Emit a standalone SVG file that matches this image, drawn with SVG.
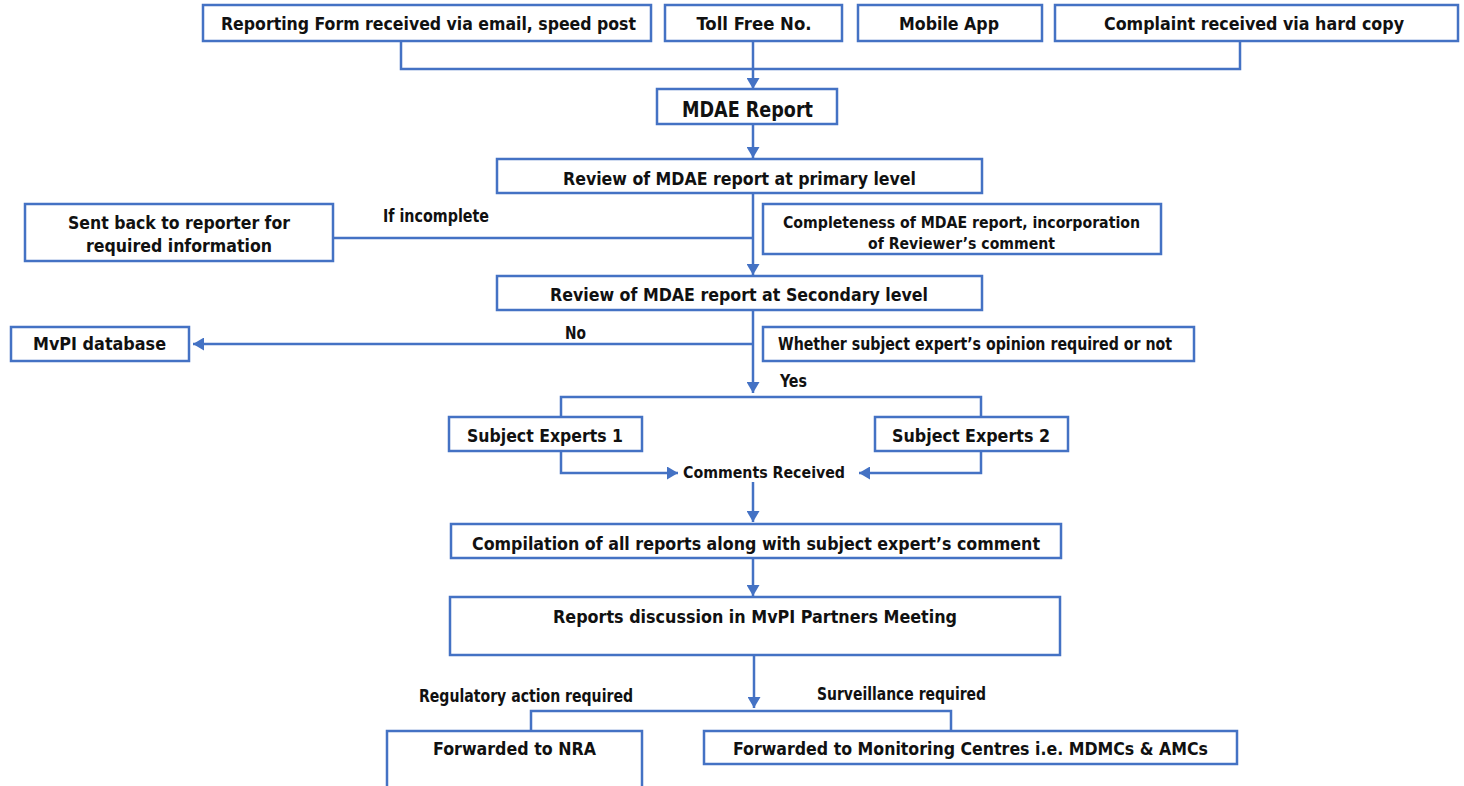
<svg xmlns="http://www.w3.org/2000/svg" width="1464" height="786" viewBox="0 0 1464 786">
<defs>
<marker id="ah" markerUnits="userSpaceOnUse" markerWidth="11" markerHeight="13" refX="11" refY="6.5" orient="auto">
<path d="M0,0 L11,6.5 L0,13 z" fill="#4472C4"/>
</marker>
<style>
.box{fill:#fff;stroke:#4472C4;stroke-width:2.5}
.ln{fill:none;stroke:#4472C4;stroke-width:2.5}
.ar{fill:none;stroke:#4472C4;stroke-width:2.5;marker-end:url(#ah)}
text{font-family:"DejaVu Sans Condensed","DejaVu Sans",sans-serif;font-weight:bold;font-size:17px;fill:#111;text-anchor:middle}
.l{text-anchor:start}
</style>
</defs>
<rect width="1464" height="786" fill="#fff"/>
<g id="connectors">
<path class="ln" d="M401,41 V69 H1240 V41"/>
<path class="ar" d="M753,41 V89"/>
<path class="ar" d="M753,124 V158"/>
<path class="ar" d="M753,193 V275"/>
<path class="ln" d="M753,238 H333"/>
<path class="ar" d="M753,310 V393"/>
<path class="ar" d="M753,344 H193"/>
<path class="ln" d="M561,417 V397 H981 V417"/>
<path class="ar" d="M561,451 V473 H678"/>
<path class="ar" d="M981,451 V473 H859"/>
<path class="ar" d="M753,482 V522"/>
<path class="ar" d="M753,558 V596"/>
<path class="ar" d="M754,655 V708"/>
<path class="ln" d="M531,731 V711 H951 V731"/>
</g>
<g id="n-form"><rect class="box" x="203" y="5" width="448" height="36"/><text x="428.5" y="30" textLength="415" lengthAdjust="spacingAndGlyphs">Reporting Form received via email, speed post</text></g>
<g id="n-toll"><rect class="box" x="665" y="5" width="177" height="36"/><text x="754" y="30" textLength="115" lengthAdjust="spacingAndGlyphs">Toll Free No.</text></g>
<g id="n-app"><rect class="box" x="858" y="5" width="184" height="36"/><text x="949" y="30" textLength="100" lengthAdjust="spacingAndGlyphs">Mobile App</text></g>
<g id="n-hard"><rect class="box" x="1055" y="5" width="403" height="36"/><text x="1254" y="30" textLength="300" lengthAdjust="spacingAndGlyphs">Complaint received via hard copy</text></g>
<g id="n-mdae"><rect class="box" x="657" y="89" width="180" height="35"/><text x="747.5" y="117" style="font-size:21px" textLength="131" lengthAdjust="spacingAndGlyphs">MDAE Report</text></g>
<g id="n-primary"><rect class="box" x="497" y="159" width="485" height="34"/><text x="739.5" y="185" textLength="353" lengthAdjust="spacingAndGlyphs">Review of MDAE report at primary level</text></g>
<g id="n-sentback"><rect class="box" x="25" y="204" width="308" height="57"/><text x="179" y="229" textLength="222" lengthAdjust="spacingAndGlyphs">Sent back to reporter for</text><text x="179" y="252" textLength="186" lengthAdjust="spacingAndGlyphs">required information</text></g>
<g id="lbl-incomplete"><text class="l" x="383" y="222" textLength="106" lengthAdjust="spacingAndGlyphs">If incomplete</text></g>
<g id="n-complete"><rect class="box" x="763" y="204" width="398" height="50"/><text x="961.5" y="228" style="font-size:16px" textLength="357" lengthAdjust="spacingAndGlyphs">Completeness of MDAE report, incorporation</text><text x="961.5" y="249" style="font-size:16px" textLength="187" lengthAdjust="spacingAndGlyphs">of Reviewer’s comment</text></g>
<g id="n-secondary"><rect class="box" x="497" y="276" width="485" height="34"/><text x="739" y="301" textLength="378" lengthAdjust="spacingAndGlyphs">Review of MDAE report at Secondary level</text></g>
<g id="n-mvpi"><rect class="box" x="11" y="327" width="178" height="34"/><text x="99.5" y="350" textLength="133" lengthAdjust="spacingAndGlyphs">MvPI database</text></g>
<g id="lbl-no"><text x="575.5" y="339" textLength="21" lengthAdjust="spacingAndGlyphs">No</text></g>
<g id="n-whether"><rect class="box" x="763" y="327" width="431" height="34"/><text x="975" y="350" textLength="394" lengthAdjust="spacingAndGlyphs">Whether subject expert’s opinion required or not</text></g>
<g id="lbl-yes"><text class="l" x="780" y="387" textLength="27" lengthAdjust="spacingAndGlyphs">Yes</text></g>
<g id="n-se1"><rect class="box" x="449" y="417" width="193" height="34"/><text x="545" y="442" textLength="156" lengthAdjust="spacingAndGlyphs">Subject Experts 1</text></g>
<g id="n-se2"><rect class="box" x="875" y="417" width="193" height="34"/><text x="971" y="442" textLength="158" lengthAdjust="spacingAndGlyphs">Subject Experts 2</text></g>
<g id="n-comments"><text x="764" y="478" style="font-size:16px" textLength="162" lengthAdjust="spacingAndGlyphs">Comments Received</text></g>
<g id="n-compile"><rect class="box" x="451" y="524" width="610" height="34"/><text x="756" y="550" textLength="568" lengthAdjust="spacingAndGlyphs">Compilation of all reports along with subject expert’s comment</text></g>
<g id="n-meeting"><rect class="box" x="450" y="597" width="610" height="58"/><text x="755" y="623" textLength="404" lengthAdjust="spacingAndGlyphs">Reports discussion in MvPI Partners Meeting</text></g>
<g id="lbl-reg"><text class="l" x="419" y="702" textLength="214" lengthAdjust="spacingAndGlyphs">Regulatory action required</text></g>
<g id="lbl-surv"><text class="l" x="817" y="700" textLength="169" lengthAdjust="spacingAndGlyphs">Surveillance required</text></g>
<g id="n-nra"><rect class="box" x="387" y="731" width="255" height="70"/><text x="514.5" y="755" textLength="163" lengthAdjust="spacingAndGlyphs">Forwarded to NRA</text></g>
<g id="n-centres"><rect class="box" x="704" y="731" width="533" height="33"/><text x="970.5" y="755" textLength="475" lengthAdjust="spacingAndGlyphs">Forwarded to Monitoring Centres i.e. MDMCs &amp; AMCs</text></g>
</svg>
